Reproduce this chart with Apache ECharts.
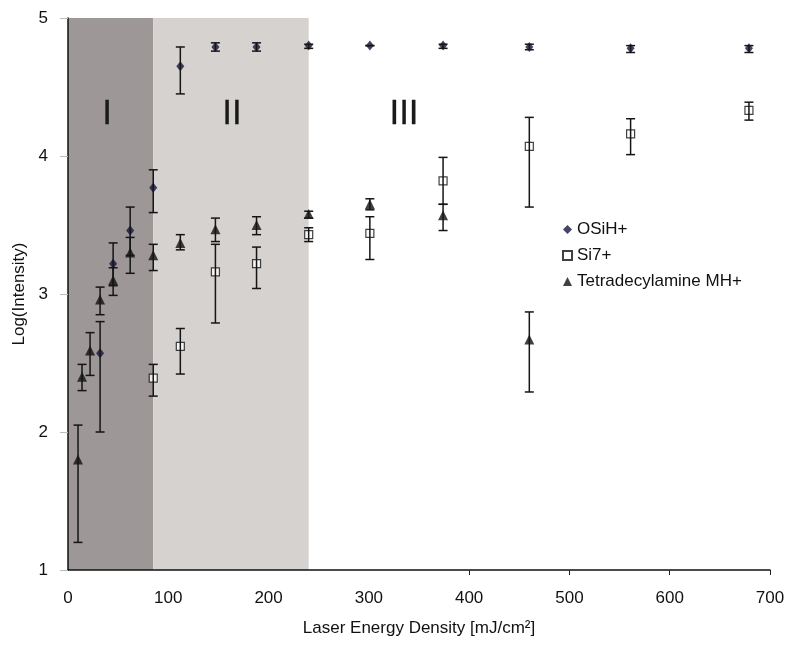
<!DOCTYPE html>
<html><head><meta charset="utf-8">
<script src="https://cdn.jsdelivr.net/npm/echarts@6/dist/echarts.min.js"></script>
<style>html,body{margin:0;padding:0;background:#fff}#c{width:800px;height:650px}</style>
</head><body><div id="c"></div>
<script>
// ---- data ----
const xTicks = [0, 100, 200, 300, 400, 500, 600, 700];
const yTicks = [1, 2, 3, 4, 5];
const regionBounds = [0, 85, 240];
const regionNames = ['I', 'II', 'III'];

const osihX    = [32, 45, 62, 85, 112, 147, 188, 240, 301, 374, 460, 561, 679];
const osihY    = [2.57, 3.22, 3.46, 3.77, 4.65, 4.79, 4.79, 4.80, 4.80, 4.80, 4.79, 4.78, 4.78];
const osihLow  = [2.00, 3.06, 3.28, 3.59, 4.45, 4.76, 4.76, 4.78, 4.80, 4.78, 4.77, 4.75, 4.75];
const osihHigh = [2.80, 3.37, 3.63, 3.90, 4.79, 4.82, 4.82, 4.81, 4.80, 4.81, 4.81, 4.80, 4.80];

const si7X    = [85, 112, 147, 188, 240, 301, 374, 460, 561, 679];
const si7Y    = [2.39, 2.62, 3.16, 3.22, 3.43, 3.44, 3.82, 4.07, 4.16, 4.33];
const si7Low  = [2.26, 2.42, 2.79, 3.04, 3.38, 3.25, 3.65, 3.63, 4.01, 4.26];
const si7High = [2.49, 2.75, 3.36, 3.34, 3.48, 3.56, 3.99, 4.28, 4.27, 4.39];

const tetraX    = [10, 14, 22, 32, 45, 62, 85, 112, 147, 188, 240, 301, 374, 460];
const tetraY    = [1.80, 2.40, 2.59, 2.96, 3.10, 3.30, 3.28, 3.37, 3.47, 3.50, 3.58, 3.65, 3.57, 2.67];
const tetraLow  = [1.20, 2.30, 2.41, 2.85, 2.99, 3.15, 3.17, 3.32, 3.38, 3.43, 3.55, 3.61, 3.46, 2.29];
const tetraHigh = [2.05, 2.49, 2.72, 3.05, 3.19, 3.41, 3.36, 3.43, 3.55, 3.56, 3.60, 3.69, 3.65, 2.87];

// ---- chart ----
const FONT = '"Liberation Sans", Arial, sans-serif';
const pts = (xs, ys) => xs.map((x, i) => [x, ys[i]]);
const errs = (xs, lo, hi) => xs.map((x, i) => [x, lo[i], hi[i]]);

function errRender(params, api) {
  const x = api.value(0), lo = api.value(1), hi = api.value(2);
  const a = api.coord([x, lo]), b = api.coord([x, hi]);
  const hw = 4.5;
  const style = { stroke: '#151515', lineWidth: 1.5 };
  return { type: 'group', children: [
    { type: 'line', shape: { x1: a[0], y1: a[1], x2: b[0], y2: b[1] }, style },
    { type: 'line', shape: { x1: a[0] - hw, y1: a[1], x2: a[0] + hw, y2: a[1] }, style },
    { type: 'line', shape: { x1: b[0] - hw, y1: b[1], x2: b[0] + hw, y2: b[1] }, style }
  ]};
}
function errSeries(data) {
  return { type: 'custom', renderItem: errRender, data, encode: { x: 0, y: [1, 2] },
           z: 4, silent: true, tooltip: { show: false } };
}

const chart = echarts.init(document.getElementById('c'), null, { renderer: 'canvas' });
chart.setOption({
  animation: false,
  backgroundColor: '#fff',
  textStyle: { fontFamily: FONT },
  grid: { left: 68, right: 30, top: 18, bottom: 80 },
  legend: {
    orient: 'vertical', left: 557, top: 216, itemGap: 9,
    itemWidth: 9, itemHeight: 9,
    data: ['OSiH+', 'Si7+', 'Tetradecylamine MH+'],
    textStyle: { fontSize: 17, color: '#111', fontFamily: FONT }
  },
  xAxis: {
    type: 'value', min: xTicks[0], max: xTicks[xTicks.length - 1], interval: 100,
    name: 'Laser Energy Density [mJ/cm²]', nameLocation: 'middle', nameGap: 50,
    nameTextStyle: { fontSize: 17, color: '#111', fontFamily: FONT },
    axisLine: { lineStyle: { color: '#111', width: 1.5 } },
    axisTick: { show: true, length: 5, customValues: [400, 500, 600, 700], lineStyle: { color: '#222' } },
    axisLabel: { fontSize: 17, color: '#111', margin: 20, fontFamily: FONT },
    splitLine: { show: false }
  },
  yAxis: {
    type: 'value', min: yTicks[0], max: yTicks[yTicks.length - 1], interval: 1,
    name: 'Log(Intensity)', nameLocation: 'middle', nameGap: 38, nameRotate: 90,
    nameTextStyle: { fontSize: 17, color: '#111', fontFamily: FONT },
    axisLine: { show: true, lineStyle: { color: '#111', width: 1.5 } },
    axisTick: { show: true, length: 8, lineStyle: { color: '#bbb' } },
    axisLabel: { fontSize: 17, color: '#111', margin: 20, fontFamily: FONT },
    splitLine: { show: false }
  },
  graphic: regionNames.map((t, i) => ({
    type: 'text', x: [107, 232, 404][i], y: 114, z: 10,
    style: { text: t, font: '35px ' + FONT, fill: '#1a1a1a', stroke: '#1a1a1a', lineWidth: 0.3,
             textAlign: 'center', textVerticalAlign: 'middle' }
  })),
  series: [
    {
      name: 'OSiH+', type: 'scatter', data: pts(osihX, osihY), z: 3,
      symbol: 'diamond', symbolSize: [8, 10],
      itemStyle: { color: '#15153f' },
      markArea: {
        silent: true, z: 0,
        data: [
          [{ xAxis: regionBounds[0], itemStyle: { color: '#9d9797' } }, { xAxis: regionBounds[1] }],
          [{ xAxis: regionBounds[1], itemStyle: { color: '#d5d2cf' } }, { xAxis: regionBounds[2] }]
        ]
      }
    },
    {
      name: 'Si7+', type: 'scatter', data: pts(si7X, si7Y), z: 3,
      symbol: 'rect', symbolSize: 8,
      itemStyle: { color: '#ffffff', borderColor: '#111', borderWidth: 1.2 }
    },
    {
      name: 'Tetradecylamine MH+', type: 'scatter', data: pts(tetraX, tetraY), z: 3,
      symbol: 'triangle', symbolSize: [10, 10],
      itemStyle: { color: '#111' }
    },
    errSeries(errs(osihX, osihLow, osihHigh)),
    errSeries(errs(si7X, si7Low, si7High)),
    errSeries(errs(tetraX, tetraLow, tetraHigh))
  ]
});
</script></body></html>
